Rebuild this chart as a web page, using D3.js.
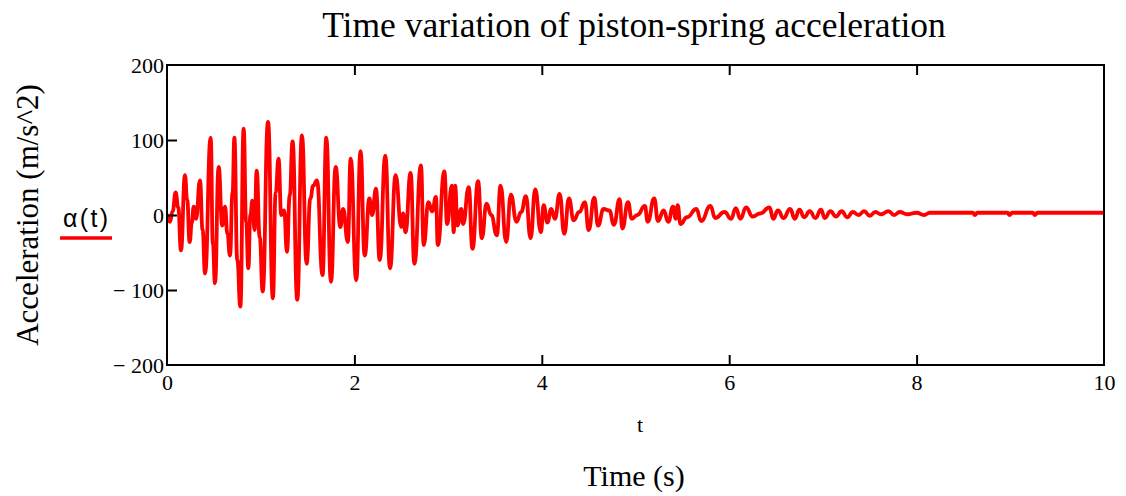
<!DOCTYPE html>
<html>
<head>
<meta charset="utf-8">
<script src="https://cdn.jsdelivr.net/npm/d3@7"></script>
<style>
  body { margin: 0; background: #fff; }
  svg { display: block; }
  .serif { font-family: "Liberation Serif", "Times New Roman", serif; fill: #000; }
</style>
</head>
<body>
<svg id="chart" width="1126" height="496"></svg>
<script>
// values: sample times (s) and acceleration (m/s^2)
var times = [
  0.000, 0.032, 0.060, 0.092, 0.120, 0.149, 0.192, 0.215, 0.242, 0.265,
  0.285, 0.310, 0.352, 0.380, 0.406, 0.466, 0.490, 0.512, 0.551, 0.590,
  0.619, 0.645, 0.672, 0.700, 0.719, 0.750, 0.783, 0.818, 0.845, 0.868,
  0.890, 0.911, 0.935, 0.957, 0.990, 1.021, 1.078, 1.130, 1.160, 1.190,
  1.220, 1.250, 1.280, 1.310, 1.340, 1.390, 1.440, 1.490, 1.530, 1.560,
  1.600, 1.660, 1.700, 1.750, 1.800, 1.850, 1.880, 1.930, 1.960, 2.020,
  2.065, 2.110, 2.160, 2.190, 2.230, 2.270, 2.330, 2.380, 2.440, 2.500,
  2.520, 2.545, 2.600, 2.640, 2.710, 2.740, 2.790, 2.830, 2.870, 2.890,
  2.960, 2.990, 3.040, 3.060, 3.075, 3.100, 3.140, 3.160, 3.220, 3.260,
  3.320, 3.360, 3.410, 3.460, 3.520, 3.560, 3.620, 3.670, 3.730, 3.780,
  3.830, 3.880, 3.930, 3.990, 4.020, 4.060, 4.100, 4.140, 4.190, 4.240,
  4.290, 4.340, 4.400, 4.460, 4.500, 4.560, 4.600, 4.660, 4.720, 4.770,
  4.830, 4.860, 4.920, 4.960, 5.020, 5.100, 5.130, 5.200, 5.240, 5.300,
  5.350, 5.400, 5.430, 5.450, 5.480, 5.550, 5.650, 5.700, 5.800, 5.850,
  5.950, 6.020, 6.070, 6.120, 6.180, 6.250, 6.330, 6.430, 6.470, 6.520,
  6.580, 6.650, 6.700, 6.750, 6.800, 6.860, 6.920, 6.980, 7.020, 7.080,
  7.140, 7.200, 7.260, 7.320, 7.380, 7.440, 7.500, 7.560, 7.620, 7.700,
  7.760, 7.820, 7.900, 8.000, 8.080, 8.140, 8.600, 8.620, 8.650, 8.970,
  8.990, 9.020, 9.240, 9.260, 9.290, 10.000
];
var accel = [
  0, -9, 5, 30, 10, -47, 53, 20, -36, -10,
  11, -5, 46, -20, -78, 103, -40, -91, 64, -14,
  11, -25, -54, 30, 103, -60, -122, 115, -10, -71,
  0, 19, -20, 59, -30, -102, 124, -111, 30, 75,
  0, 6, -49, 26, 98, -113, 106, -65, 22, 39,
  46, -80, 103, -89, 64, -16, 8, -36, 75, -87,
  85, -54, 22, 0, 35, -60, 79, -71, 53, -16,
  2, -23, 56, -65, 66, -40, 17, 5, 24, -40,
  58, -12, 39, -23, 39, -14, 8, -12, 37, -45,
  45, -31, 15, 0, -27, 39, -36, 27, -9, 4,
  25, -31, 34, -23, 13, -10, 8, -5, 28, -25,
  22, -7, 4, 17, -20, 23, -14, 8, 6, -13,
  21, -18, 17, -5, 0, 12, -9, 22, -8, 6,
  -9, 11, -5, 13, -12, -3, 8, -8, 12, -4,
  4, -5, 9, -5, 10, -2, 2, 10, -5, 6,
  -4, 8, -5, 7, -3, 5, -4, 7, -4, 5,
  -2, 5, -3, 4, 0, 5, -1, 4, 1, 5,
  0, 4, 1, 3, 0, 3, 3, 0, 3, 3,
  0, 3, 3, 0, 3, 3
];
var xTicks = [0, 2, 4, 6, 8, 10];
var yTicks = [-200, -100, 0, 100, 200];

var svg = d3.select('#chart');
var plotL = 167, plotR = 1104, plotT = 65, plotB = 365;

var x = d3.scaleLinear().domain([0, 10]).range([plotL, plotR]);
var y = d3.scaleLinear().domain([-200, 200]).range([plotB, plotT]);

var data = times.map(function(t, i) { return {t: t, a: accel[i]}; });

svg.append('clipPath').attr('id', 'plotclip')
  .append('rect').attr('x', plotL).attr('y', plotT)
  .attr('width', plotR - plotL).attr('height', plotB - plotT);

// the trace
var line = d3.line()
  .x(function(d) { return x(d.t); })
  .y(function(d) { return y(d.a); })
  .curve(d3.curveBumpX);

svg.append('path')
  .datum(data)
  .attr('clip-path', 'url(#plotclip)')
  .attr('d', line)
  .attr('fill', 'none')
  .attr('stroke', '#ff0000')
  .attr('stroke-width', 3.8);

// frame
svg.append('rect')
  .attr('x', plotL).attr('y', plotT)
  .attr('width', plotR - plotL).attr('height', plotB - plotT)
  .attr('fill', 'none').attr('stroke', '#000').attr('stroke-width', 2);

// inner ticks, top, bottom and left
var inner = xTicks.slice(1, -1);
function thick(g) { g.select('.domain').remove(); g.selectAll('line').attr('stroke-width', 2); }
svg.append('g').attr('transform', 'translate(0,' + plotT + ')')
  .call(d3.axisBottom(x).tickValues(inner).tickSize(10).tickFormat(''))
  .call(thick);
svg.append('g').attr('transform', 'translate(0,' + plotB + ')')
  .call(d3.axisTop(x).tickValues(inner).tickSize(10).tickFormat(''))
  .call(thick);
svg.append('g').attr('transform', 'translate(' + plotL + ',0)')
  .call(d3.axisRight(y).tickValues([-100, 0, 100]).tickSize(10).tickFormat(''))
  .call(thick);

// tick labels
var xAxis = svg.append('g').attr('transform', 'translate(0,' + plotB + ')')
  .call(d3.axisBottom(x).tickValues(xTicks).tickSize(0).tickPadding(9));
xAxis.select('.domain').remove();
xAxis.selectAll('text').attr('class', 'serif').attr('font-size', 22).attr('fill', '#000');

var yAxis = svg.append('g').attr('transform', 'translate(' + (plotL - 3) + ',0)')
  .call(d3.axisLeft(y).tickValues(yTicks).tickSize(0).tickPadding(0)
    .tickFormat(function(d) { return d < 0 ? '\u2212 ' + (-d) : d; }));
yAxis.select('.domain').remove();
yAxis.selectAll('text').attr('class', 'serif').attr('font-size', 22).attr('fill', '#000');

// titles
svg.append('text').attr('class', 'serif')
  .attr('x', 634).attr('y', 37).attr('text-anchor', 'middle').attr('font-size', 35.5)
  .text('Time variation of piston-spring acceleration');

svg.append('text').attr('class', 'serif')
  .attr('x', 640).attr('y', 432).attr('text-anchor', 'middle').attr('font-size', 22)
  .text('t');

svg.append('text').attr('class', 'serif')
  .attr('x', 634).attr('y', 486).attr('text-anchor', 'middle').attr('font-size', 30)
  .text('Time (s)');

svg.append('text').attr('class', 'serif')
  .attr('transform', 'translate(38,215) rotate(-90)')
  .attr('text-anchor', 'middle').attr('font-size', 31)
  .text('Acceleration (m/s^2)');

// legend
svg.append('text')
  .attr('x', 63).attr('y', 227)
  .attr('font-family', '"Liberation Sans", Arial, sans-serif').attr('font-size', 25)
  .attr('textLength', 45).attr('lengthAdjust', 'spacing')
  .attr('fill', '#000')
  .text('\u03b1(t)');
svg.append('line')
  .attr('x1', 60).attr('x2', 112).attr('y1', 238).attr('y2', 238)
  .attr('stroke', '#ff0000').attr('stroke-width', 3.5);
</script>
</body>
</html>
